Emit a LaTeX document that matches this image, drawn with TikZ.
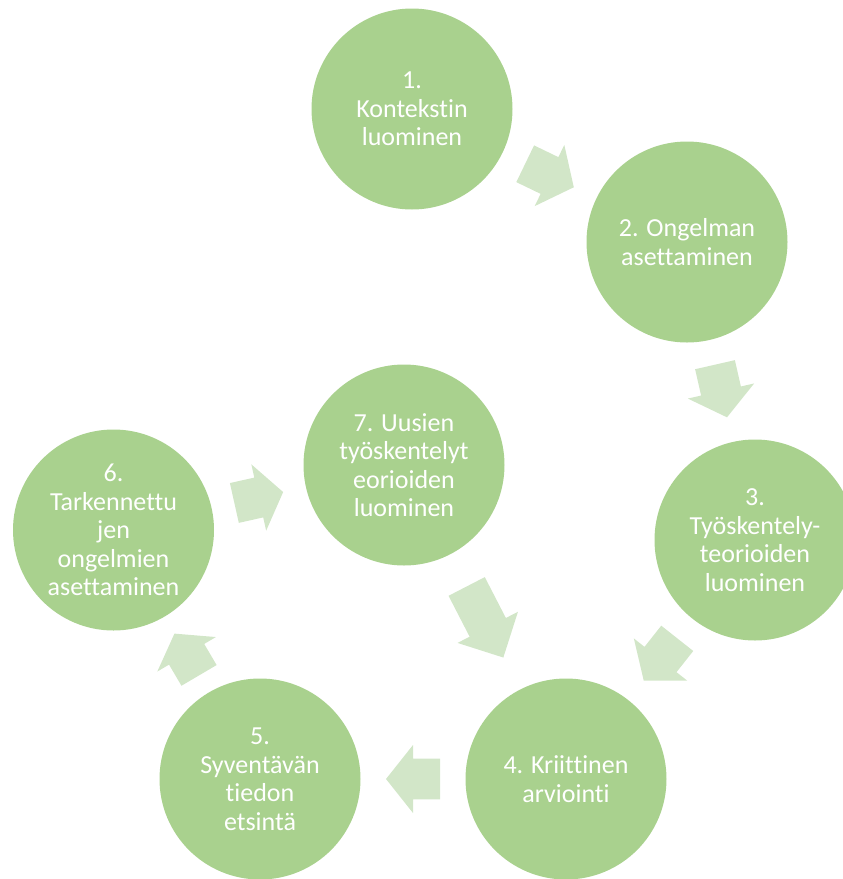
\documentclass[tikz,border=0pt]{standalone}
\usepackage{fontspec}
\setmainfont{Carlito}[Ligatures=NoCommon]
\usetikzlibrary{calc}
\definecolor{circfill}{HTML}{A9D18E}
\definecolor{arrfill}{HTML}{D2E6C8}
\newcommand\cyclearrow[4]{%
  \coordinate (am) at ($(#1.center)!0.5!(#2.center)$);
  \coordinate (as) at ($(am)!#3!(#1.center)$);
  \coordinate (at) at ($(am)!#3!(#2.center)$);
  \coordinate (aj) at ($(at)!#4!(as)$);
  \fill[arrowstyle] ($(as)!20.4pt!90:(at)$) -- ($(aj)!20.4pt!90:(at)$) -- ($(aj)!34pt!90:(at)$) -- (at)
    -- ($(aj)!34pt!-90:(at)$) -- ($(aj)!20.4pt!-90:(at)$) -- ($(as)!20.4pt!-90:(at)$) -- cycle;
}
\begin{document}
\begin{tikzpicture}[x=1pt,y=-1pt,
  stage/.style={circle, fill=circfill, minimum size=201pt, inner sep=0pt, text=white,
    align=center, font=\fontsize{26pt}{28.5pt}\selectfont},
  arrowstyle/.style={fill=arrfill}]
\clip (0,0) rectangle (843,879);
\node[stage] (c1) at (412,109) {1.\\Kontekstin\\luominen};
\node[stage] (c2) at (687,242) {2. Ongelman\\asettaminen};
\node[stage] (c3) at (755,540) {3.\\Työskentely-\\teorioiden\\luominen};
\node[stage] (c4) at (566,779) {4. Kriittinen\\arviointi};
\node[stage] (c5) at (260,779) {5.\\Syventävän\\tiedon\\etsintä};
\node[stage] (c6) at (113.5,530) {6.\\Tarkennettu\\jen\\ongelmien\\asettaminen};
\node[stage] (c7) at (404,465) {7. Uusien\\työskentelyt\\eorioiden\\luominen};
\cyclearrow{c1}{c2}{27pt}{27pt}
\cyclearrow{c2}{c3}{27pt}{27pt}
\cyclearrow{c3}{c4}{27pt}{27pt}
\cyclearrow{c4}{c5}{27pt}{27pt}
\cyclearrow{c5}{c6}{24.25pt}{24pt}
\cyclearrow{c6}{c7}{25pt}{25pt}
\cyclearrow{c7}{c4}{40pt}{34pt}
\end{tikzpicture}
\end{document}
